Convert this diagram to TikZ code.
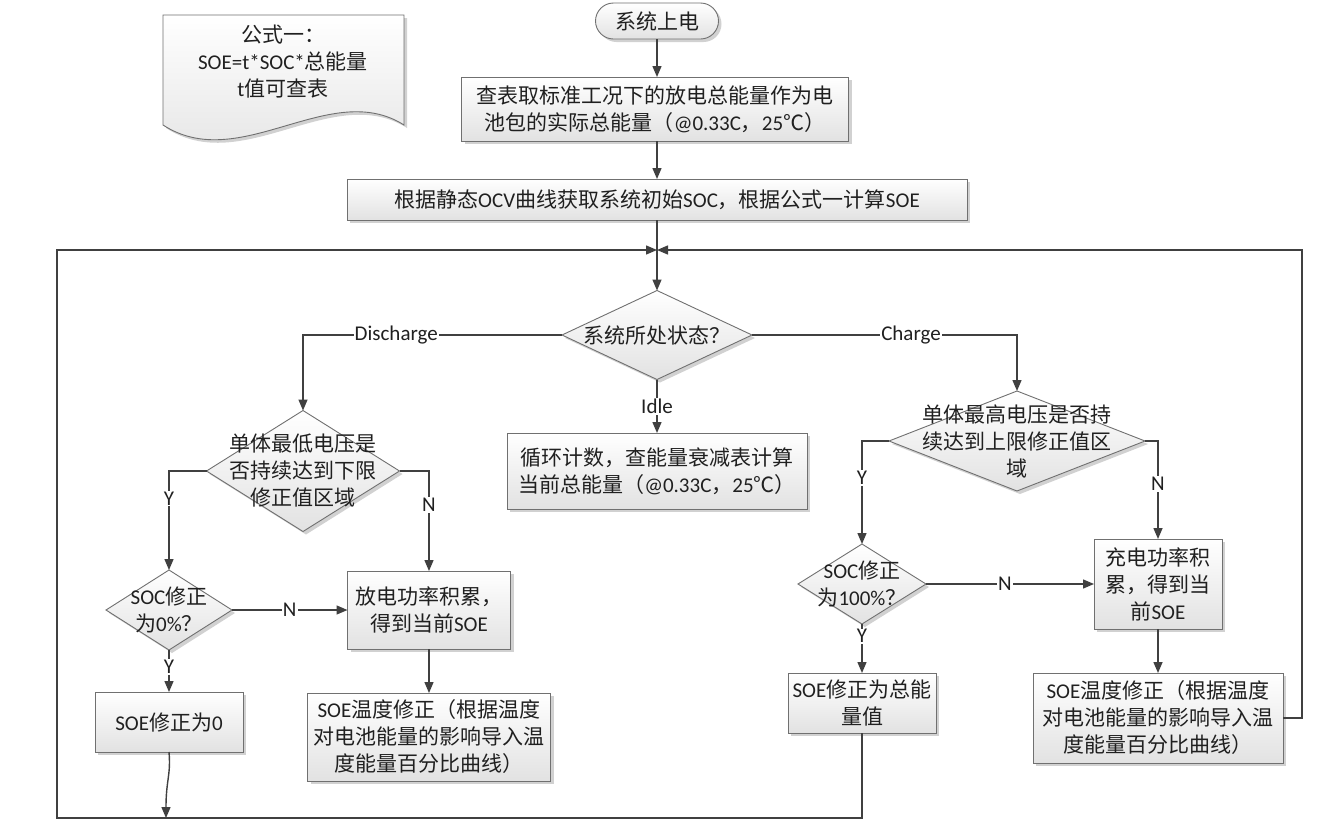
\documentclass[tikz,border=0pt]{standalone}
\usepackage{fontspec}
\setmainfont{Carlito}
\newfontfamily\cjk{Noto Sans CJK SC}
\newfontfamily\latin{Carlito}
\XeTeXinterchartokenstate=1
\newXeTeXintercharclass\cjkclass
\newcount\ccnt
\def\setcjkrange#1#2{\ccnt=#1\relax\loop\XeTeXcharclass\ccnt=\cjkclass\relax\ifnum\ccnt<#2\advance\ccnt by 1\repeat}
\setcjkrange{"4E00}{"9FFF}
\setcjkrange{"3000}{"303F}
\setcjkrange{"FF00}{"FFEF}
\XeTeXcharclass"2103=\cjkclass
\XeTeXinterchartoks 0 \cjkclass={\cjk}
\XeTeXinterchartoks 4095 \cjkclass={\cjk}
\XeTeXinterchartoks \cjkclass 0={\latin}
\XeTeXinterchartoks \cjkclass 4095={\latin}
\usetikzlibrary{arrows.meta,shapes.geometric,shapes.misc,shadows}
\definecolor{lncol}{HTML}{404040}
\definecolor{bordcol}{HTML}{707070}
\definecolor{fillbot}{HTML}{E2E2E2}
\definecolor{txt}{HTML}{202020}
\newcommand\mainsz{\fontsize{21}{27}\selectfont}
\tikzset{
  ln/.style={draw=lncol, line width=1.4pt},
  arr/.style={ln, -{Triangle[length=11pt,width=9pt]}},
  boxbase/.style={draw=bordcol, line width=0.9pt, top color=white, bottom color=fillbot,
    drop shadow={shadow xshift=3pt, shadow yshift=-3pt, fill=black, opacity=0.18},
    text=txt, font=\mainsz, align=center, inner sep=1pt, outer sep=0pt},
  procbox/.style={boxbase, rectangle},
  dia/.style={boxbase, diamond, inner sep=0pt},
  dtext/.style={text=txt, font=\mainsz, align=center},
  lbl/.style={fill=white, text=txt, font=\mainsz, inner sep=1pt},
}
\begin{document}
\begin{tikzpicture}[x=1pt,y=-1pt]
\fill[white] (0,0) rectangle (1317,836);
\useasboundingbox (0,0) rectangle (1317,836);

% formula document shape
\path[boxbase] (163,15) -- (404,15) -- (404,125)
  .. controls (330,78) and (240,175) .. (163,125) -- cycle;
\node[dtext] (formula) at (283,62) {公式一：\\SOE=t*SOC*总能量\\t值可查表};

% main column
\node[procbox, rounded rectangle, minimum width=125pt, minimum height=36pt] (start) at (657,21) {系统上电};
\node[procbox, minimum width=387pt, minimum height=64pt] (box1) at (655,109)
  {查表取标准工况下的放电总能量作为电\\池包的实际总能量（@0.33C，25℃）};
\node[procbox, minimum width=620pt, minimum height=41pt] (box2) at (657,199.5)
  {根据静态OCV曲线获取系统初始SOC，根据公式一计算SOE};
\node[dia, minimum width=190pt, minimum height=89pt] (d1) at (657,335) {};
\node[dtext] (d1t) at (d1) {系统所处状态？};
\node[procbox, minimum width=300pt, minimum height=76pt] (idle) at (657,471)
  {循环计数，查能量衰减表计算\\当前总能量（@0.33C，25℃）};

% discharge branch
\node[dia, minimum width=193pt, minimum height=121pt] (d2) at (303,471) {};
\node[dtext] (d2t) at (d2) {单体最低电压是\\否持续达到下限\\修正值区域};
\node[dia, minimum width=126pt, minimum height=80pt] (d4) at (169,610) {};
\node[dtext] (d4t) at (d4) {SOC修正\\为0\%？};
\node[procbox, minimum width=163pt, minimum height=78pt] (acc1) at (429,610)
  {放电功率积累，\\得到当前SOE};
\node[procbox, minimum width=148pt, minimum height=60pt] (zero) at (169,722) {SOE修正为0};
\node[procbox, minimum width=243pt, minimum height=88pt] (tmp1) at (429,737)
  {SOE温度修正（根据温度\\对电池能量的影响导入温\\度能量百分比曲线）};

% charge branch
\node[dia, minimum width=256pt, minimum height=100pt] (d3) at (1017,441) {};
\node[dtext] (d3t) at (d3) {单体最高电压是否持\\续达到上限修正值区\\域};
\node[dia, minimum width=128pt, minimum height=80pt] (d5) at (862,584) {};
\node[dtext] (d5t) at (d5) {SOC修正\\为100\%？};
\node[procbox, minimum width=128pt, minimum height=90pt] (acc2) at (1158,584)
  {充电功率积\\累，得到当\\前SOE};
\node[procbox, minimum width=148pt, minimum height=60pt] (full) at (862,703)
  {SOE修正为总能\\量值};
\node[procbox, minimum width=250pt, minimum height=90pt] (tmp2) at (1158,718)
  {SOE温度修正（根据温度\\对电池能量的影响导入温\\度能量百分比曲线）};

% helper coordinates
\coordinate (m) at (657,250);
\coordinate (bl) at (57,818);
\coordinate (rt) at (1302,250);
\coordinate (zb) at (166,818);

% connectors
\draw[arr] (start.south) -- (start.south |- box1.north);
\draw[arr] (box1.south -| start) -- (box2.north -| start);
\draw[arr] (box2.south -| start) -- (d1.north);
\draw[arr] (d1.west) -| node[lbl,pos=0.32]{Discharge} (d2.north);
\draw[arr] (d1.east) -| node[lbl,pos=0.30]{Charge} (d3.north);
\draw[arr] (d1.south) -- node[lbl,pos=0.5]{Idle} (d1.south |- idle.north);

\draw[arr] (d2.west) -| node[lbl,pos=0.64]{Y} (d4.north);
\draw[arr] (d2.east) -| node[lbl,pos=0.67]{N} (acc1.north);
\draw[arr] (d4.east) -- node[lbl,pos=0.5]{N} (d4.east -| acc1.west);
\draw[arr] (d4.south) -- node[lbl,pos=0.4]{Y} (zero.north);
\draw[arr] (acc1.south) -- (tmp1.north);
\draw[arr] (zero.south) .. controls (171,775) and (166,780) .. (zb);

\draw[arr] (d3.west) -| node[lbl,pos=0.68]{Y} (d5.north);
\draw[arr] (d3.east) -| node[lbl,pos=0.72]{N} (acc2.north);
\draw[arr] (d5.east) -- node[lbl,pos=0.47]{N} (d5.east -| acc2.west);
\draw[arr] (d5.south) -- node[lbl,pos=0.25]{Y} (full.north);
\draw[arr] (acc2.south) -- (tmp2.north);

\draw[arr] (full.south) |- (bl) |- (m);
\draw[arr] (tmp2.east) -| (rt) -- (m);
\end{tikzpicture}
\end{document}
